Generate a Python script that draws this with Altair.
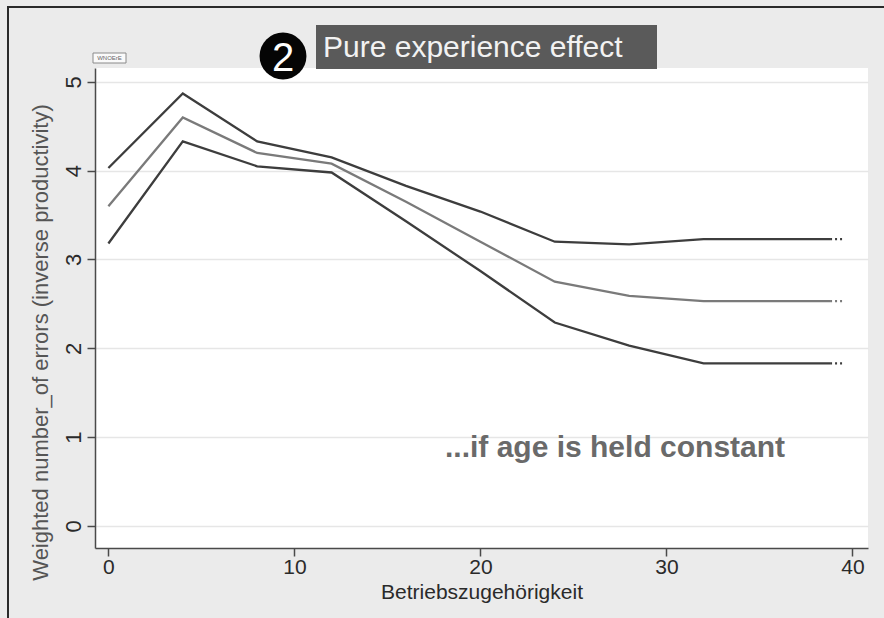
import altair as alt
import pandas as pd

# Tenure (years of service) and the fitted error counts with their confidence band
tenure = [0, 4, 8, 12, 16, 20, 24, 28, 32, 36, 38.8]
upper = [4.03, 4.87, 4.33, 4.15, 3.83, 3.54, 3.20, 3.17, 3.23, 3.23, 3.23]
estimate = [3.60, 4.60, 4.20, 4.08, 3.65, 3.20, 2.75, 2.59, 2.53, 2.53, 2.53]
lower = [3.18, 4.33, 4.05, 3.98, 3.43, 2.87, 2.29, 2.03, 1.83, 1.83, 1.83]
tail_x = [38.8, 39.6]

series_names = ["upper", "estimate", "lower"]
series_values = [upper, estimate, lower]
series_colors = ["#3d3d3d", "#7a7a7a", "#3d3d3d"]

x_ticks = [0, 10, 20, 30, 40]
y_ticks = [0, 1, 2, 3, 4, 5]

FONT = "Liberation Sans"
W, H = 773, 480

rows = []
for name, vals in zip(series_names, series_values):
    for t, v in zip(tenure, vals):
        rows.append({"tenure": t, "value": v, "band": name})
df = pd.DataFrame(rows)

tail_rows = []
for name, vals in zip(series_names, series_values):
    for t in tail_x:
        tail_rows.append({"tenure": t, "value": vals[-1], "band": name})
tail_df = pd.DataFrame(tail_rows)

x_scale = alt.Scale(domain=[-0.72, 40.84], nice=False, zero=False)
y_scale = alt.Scale(domain=[-0.25, 5.157], nice=False, zero=False)
color_scale = alt.Scale(domain=series_names, range=series_colors)

x_axis = alt.Axis(
    values=x_ticks, grid=False, title="Betriebszugehörigkeit", format="d",
    labelFontSize=21, titleFontSize=21, labelPadding=0,
    titleY=44, titleBaseline="middle", titleFontWeight="normal",
)
y_axis = alt.Axis(
    values=y_ticks, grid=True, gridColor="#e6e6e6", gridWidth=1.5, format="d",
    title="Weighted number_of errors (inverse productivity)",
    labelAngle=270, labelAlign="center", labelBaseline="alphabetic",
    labelFontSize=22, labelPadding=7,
    titleFontSize=22, titleAngle=270, titleX=-55, titleY=274,
    titleAlign="center", titleBaseline="middle", titleColor="#555555",
    titleFontWeight="normal",
)

lines = alt.Chart(df).mark_line(strokeWidth=2.3).encode(
    x=alt.X("tenure:Q", scale=x_scale, axis=x_axis),
    y=alt.Y("value:Q", scale=y_scale, axis=y_axis),
    color=alt.Color("band:N", scale=color_scale, legend=None),
)

tails = alt.Chart(tail_df).mark_line(strokeWidth=2.3, strokeDash=[2, 3]).encode(
    x=alt.X("tenure:Q", scale=x_scale),
    y=alt.Y("value:Q", scale=y_scale),
    color=alt.Color("band:N", scale=color_scale, legend=None),
)

one = pd.DataFrame({"k": [1]})

# outer frame of the graph region: top and left edges, kept inside the canvas
frame_top = alt.Chart(one).mark_rule(color="#2a2a2a", strokeWidth=2).encode(
    x=alt.value(-88), x2=alt.value(789), y=alt.value(-61)
)
frame_left = alt.Chart(one).mark_rule(color="#2a2a2a", strokeWidth=2).encode(
    x=alt.value(-87), y=alt.value(-62), y2=alt.value(550)
)

# numbered badge and heading box
badge = alt.Chart(one).mark_circle(color="#050505", opacity=1, size=2200).encode(
    x=alt.value(188), y=alt.value(-12)
)
badge_num = alt.Chart(one).mark_text(
    text="2", color="white", fontSize=40, font=FONT, align="center", baseline="middle"
).encode(x=alt.value(188), y=alt.value(-9))
head_box = alt.Chart(one).mark_rect(fill="#5a5a5a").encode(
    x=alt.value(221), x2=alt.value(562), y=alt.value(-43), y2=alt.value(1)
)
head_text = alt.Chart(one).mark_text(
    text="Pure experience effect", color="#f2f2f2", fontSize=30, font=FONT,
    align="left", baseline="middle"
).encode(x=alt.value(228), y=alt.value(-20))

# small variable tag above the y axis
tag_box = alt.Chart(one).mark_rect(fill="#fafafa", stroke="#8a8a8a", strokeWidth=1).encode(
    x=alt.value(-2), x2=alt.value(31), y=alt.value(-15), y2=alt.value(-5)
)
tag_text = alt.Chart(one).mark_text(
    text="WNOErE", color="#666666", fontSize=6, font=FONT, align="center", baseline="middle"
).encode(x=alt.value(14.5), y=alt.value(-10))

note = alt.Chart(one).mark_text(
    text="...if age is held constant", color="#6a6a6a", fontSize=30, fontWeight="bold",
    font=FONT, align="left", baseline="middle"
).encode(x=alt.value(350), y=alt.value(380))

chart = alt.layer(
    frame_top, frame_left, lines, tails, note, tag_box, tag_text,
    head_box, head_text, badge, badge_num
).properties(
    width=W, height=H,
    autosize=alt.AutoSizeParams(type="none"),
    padding={"left": 95, "top": 68, "right": 16, "bottom": 70},
    background="#ebebeb",
).configure_view(
    fill="white", strokeWidth=0
).configure_axis(
    domainColor="#4a4a4a", domainWidth=1.5, tickColor="#4a4a4a", tickWidth=1.5,
    tickSize=8, labelFont=FONT, titleFont=FONT, labelColor="#2a2a2a", titleColor="#2a2a2a",
)

chart.save("out.html", embed_options={"renderer": "svg", "actions": False})
